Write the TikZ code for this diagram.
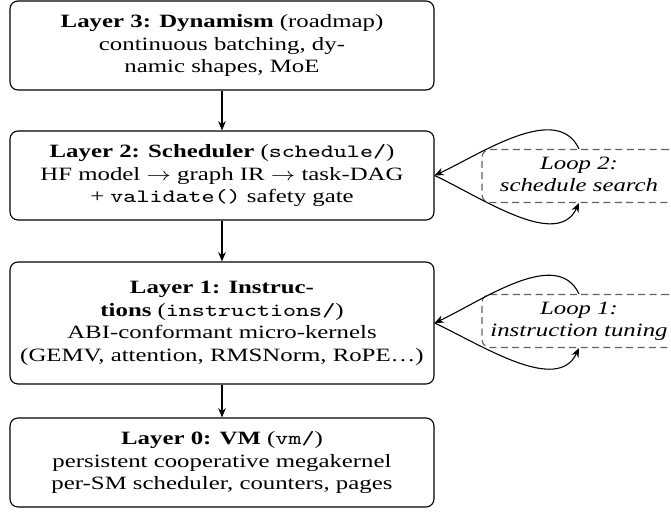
\documentclass[tikz,border=0pt]{standalone}
\usepackage{fontspec}
\setmainfont{Liberation Serif}
\usetikzlibrary{arrows.meta}
\newcommand{\wide}[1]{\scalebox{1.32}[1]{\begin{tabular}{@{}c@{}}#1\end{tabular}}}
\begin{document}
\begin{tikzpicture}[x=0.5pt,y=-0.5pt,
  font=\fontsize{9.4}{11.3}\selectfont,
  >={Stealth[length=4.6pt,width=3.8pt,inset=1.5pt]},
  layer/.style={draw, line width=0.55pt, rounded corners=4pt, align=center,
    minimum width=212pt, minimum height=44.5pt, inner sep=1pt},
  loopbox/.style={draw=black!62, line width=0.55pt, dash pattern=on 3.5pt off 2.2pt,
    rounded corners=4pt, align=center, minimum width=97pt, minimum height=26.5pt,
    inner sep=1pt, font=\fontsize{9.4}{11.3}\selectfont\itshape},
  arr/.style={->, line width=0.55pt}]
\useasboundingbox (0,0) rectangle (671,512);

\node[layer] (L3) at (222,45.5) {\wide{\textbf{Layer 3: Dynamism} (roadmap)\\continuous batching, dy-\\namic shapes, MoE}};
\node[layer] (L2) at (222,175.5) {\wide{\textbf{Layer 2: Scheduler} (\texttt{schedule/})\\HF model $\rightarrow$ graph IR $\rightarrow$ task-DAG\\+ \texttt{validate()} safety gate}};
\node[layer, minimum height=61pt] (L1) at (222,323) {\wide{\textbf{Layer 1: Instruc-}\\\textbf{tions} (\texttt{instructions/})\\ABI-conformant micro-kernels\\(GEMV, attention, RMSNorm, RoPE\ldots)}};
\node[layer] (L0) at (222,462.5) {\wide{\textbf{Layer 0: VM} (\texttt{vm/})\\persistent cooperative megakernel\\per-SM scheduler, counters, pages}};

\node[loopbox] (P2) at (579,176) {\wide{Loop 2:\\schedule search}};
\node[loopbox] (P1) at (579,321) {\wide{Loop 1:\\instruction tuning}};

\draw[arr] (L3) -- (L2);
\draw[arr] (L2) -- (L1);
\draw[arr] (L1) -- (L0);

\draw[arr] (P2.north) to[out=115,in=25,looseness=0.9] (L2.east);
\draw[arr] (L2.east) to[out=-25,in=-115,looseness=0.9] (P2.south);
\draw[arr] (P1.north) to[out=115,in=25,looseness=0.9] (L1.east);
\draw[arr] (L1.east) to[out=-25,in=-115,looseness=0.9] (P1.south);
\end{tikzpicture}
\end{document}
